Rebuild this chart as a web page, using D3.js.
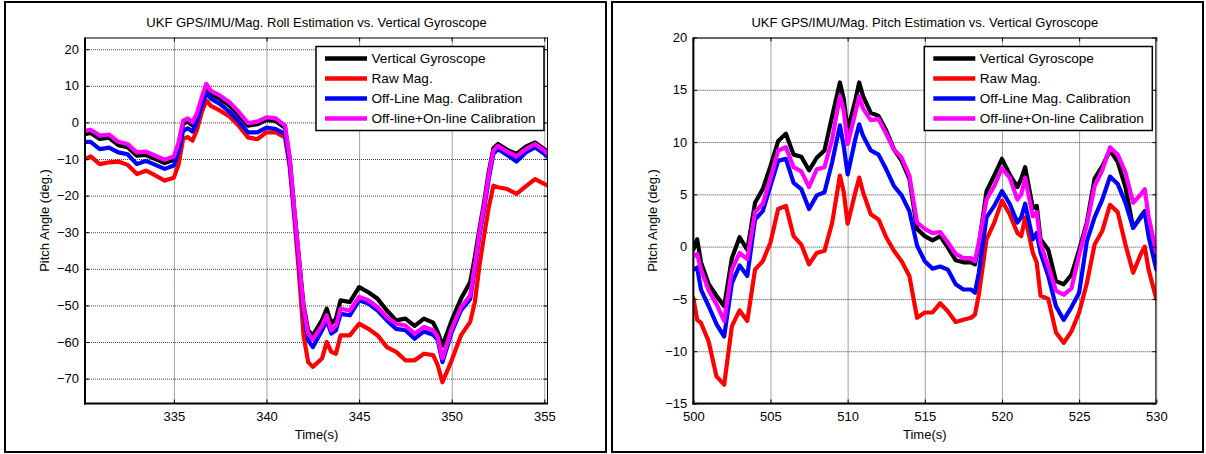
<!DOCTYPE html>
<html>
<head>
<meta charset="utf-8">
<script src="https://cdn.jsdelivr.net/npm/d3@7"></script>
<style>
  body { margin: 0; background: #fff; }
  svg { display: block; font-family: "Liberation Sans", Arial, Helvetica, sans-serif; }
</style>
</head>
<body>
<div id="chart"></div>
<script>
// ---- data ----
const seriesNames = ["Vertical Gyroscope", "Raw Mag.", "Off-Line Mag. Calibration", "Off-line+On-line Calibration"];
const seriesColors = ["#000000", "#ff0000", "#0000ff", "#ff00ff"];

// left figure: roll estimate (y label says pitch in the original)
const rollTime = [330.2, 330.5, 331, 331.5, 332, 332.5, 333, 333.5, 334, 334.5, 335, 335.25, 335.5, 335.75, 336, 336.25, 336.5, 336.75, 337, 337.5, 338, 338.5, 339, 339.5, 340, 340.5, 341, 341.25, 341.5, 341.75, 342, 342.25, 342.5, 343, 343.25, 343.5, 343.75, 344, 344.5, 345, 345.5, 346, 346.5, 347, 347.5, 348, 348.5, 349, 349.25, 349.5, 350, 350.5, 351, 351.25, 351.5, 351.75, 352, 352.25, 352.5, 353, 353.5, 354, 354.5, 355, 355.2];
const rollGyro = [-3.2, -2.9, -4.5, -4.2, -6.2, -6.8, -9.1, -8.9, -10.0, -11.1, -10.2, -6.4, -0.4, 0.2, -0.8, 1.8, 5.9, 9.6, 7.7, 6.4, 4.6, 2.0, -0.9, -0.5, 0.7, 0.4, -1.5, -9.8, -24.0, -37, -50, -56.8, -58.2, -54, -50.9, -55, -53.6, -48.6, -49.1, -45.0, -46.4, -48.2, -51.4, -54.1, -53.6, -55.6, -53.6, -54.7, -57.3, -61.0, -54.1, -48.2, -43.6, -36.8, -29.1, -21.8, -13.6, -7.1, -5.9, -7.5, -8.6, -6.6, -5.5, -7.3, -8.2];
const rollRaw = [-10.0, -9.3, -11.4, -10.9, -10.7, -11.6, -14.1, -13.2, -14.5, -15.9, -15.1, -11.5, -4.5, -4.0, -5.0, -2.0, 2.7, 6.0, 4.5, 3.2, 1.6, -0.9, -4.1, -4.6, -2.7, -2.7, -4.1, -12, -25.9, -41, -58.2, -65.5, -66.8, -64.5, -60.0, -62.7, -63.2, -58.2, -58.2, -55.0, -56.4, -58.2, -61.4, -62.7, -65.0, -65.0, -63.2, -63.6, -66.4, -71.0, -65.0, -58.2, -54.5, -49.1, -39.1, -30.9, -23.2, -17.3, -17.7, -18.2, -19.5, -17.5, -15.5, -16.8, -17.3];
const rollOffline = [-5.3, -5.3, -7.3, -6.9, -8.2, -8.7, -11.4, -10.5, -11.6, -12.7, -11.8, -8.0, -2.3, -1.6, -2.5, 0.2, 4.5, 8.0, 6.5, 5.0, 2.9, 0.3, -2.7, -2.7, -1.4, -1.8, -3.2, -11, -24.5, -38, -52, -59.5, -61.4, -56.8, -54.1, -57.7, -56.8, -52.3, -52.7, -48.6, -49.5, -51.4, -54.1, -56.4, -56.8, -59.1, -57.1, -58.0, -59.5, -65.5, -57.3, -51.4, -48.2, -40.0, -30.9, -23.6, -15.5, -8.6, -7.3, -8.9, -10.7, -8.2, -6.8, -8.6, -9.5];
const rollOnline = [-2.3, -2.0, -3.6, -3.3, -5.3, -5.9, -8.2, -8.0, -9.1, -10.2, -9.3, -5.5, 0.5, 1.1, 0.0, 2.6, 6.8, 10.5, 8.6, 7.3, 5.5, 2.9, -0.2, 0.2, 1.4, 1.1, -0.9, -9.5, -23.6, -37, -50.5, -57.7, -59.3, -55.5, -52.7, -56.8, -55.5, -50.9, -51.4, -47.7, -48.6, -50.5, -53.2, -55.0, -55.5, -57.7, -55.9, -56.8, -58.6, -64.5, -56.4, -50.5, -47.3, -39.1, -30.0, -22.7, -14.5, -7.7, -6.4, -8.0, -9.3, -7.3, -5.9, -7.7, -8.6];
const rollXTicks = [335, 340, 345, 350, 355];
const rollYTicks = [-70, -60, -50, -40, -30, -20, -10, 0, 10, 20];

// right figure: pitch estimate
const pitchTime = [500, 500.25, 500.5, 501, 501.5, 502, 502.5, 503, 503.5, 504, 504.5, 505, 505.5, 506, 506.5, 507, 507.5, 508, 508.5, 509, 509.5, 509.75, 510, 510.5, 510.75, 511, 511.5, 512, 512.5, 513, 513.5, 514, 514.5, 515, 515.5, 516, 516.5, 517, 517.5, 518, 518.25, 518.5, 519, 519.5, 520, 520.5, 521, 521.25, 521.5, 522, 522.25, 522.5, 523, 523.5, 524, 524.5, 525, 525.5, 526, 526.5, 527, 527.5, 528, 528.5, 529, 529.25, 529.5, 530];
const pitchGyro = [-0.3, 0.7, -1.5, -3.6, -4.7, -5.7, -1.1, 0.9, -0.3, 4.2, 5.5, 7.7, 10.1, 10.8, 8.8, 8.6, 7.3, 8.5, 9.2, 12.5, 15.7, 14.1, 11.1, 14.0, 15.7, 14.4, 12.8, 12.5, 11.1, 9.3, 8.2, 6.5, 1.7, 1.0, 0.6, 1.0, -0.1, -1.3, -1.5, -1.5, -1.7, 0.1, 5.3, 6.8, 8.4, 6.9, 5.7, 6.5, 7.6, 3.7, 3.9, 0.7, -0.3, -3.3, -3.6, -2.7, -0.3, 2.3, 6.5, 7.7, 9.2, 8.1, 5.7, 1.8, 2.9, 3.4, 1.7, -1.5];
const pitchRaw = [-4.9, -7.0, -7.3, -9.1, -12.4, -13.2, -7.6, -6.1, -7.1, -2.2, -1.4, 0.4, 3.6, 3.9, 1.0, 0.2, -1.7, -0.6, -0.4, 2.3, 6.8, 5.2, 2.2, 5.2, 6.6, 5.2, 3.1, 2.6, 0.9, -0.4, -1.4, -2.8, -6.8, -6.3, -6.3, -5.4, -6.2, -7.2, -7.0, -6.8, -6.5, -4.6, 0.7, 2.3, 4.4, 3.1, 1.3, 1.0, 2.8, -0.6, -1.5, -4.7, -5.0, -8.2, -9.2, -8.1, -6.3, -3.5, 0.2, 1.5, 4.0, 3.3, 0.2, -2.5, -0.7, 0.0, -2.2, -5.0];
const pitchOffline = [-2.2, -2.0, -4.1, -5.7, -7.4, -8.6, -3.5, -1.8, -2.8, 2.6, 3.4, 5.8, 8.2, 8.4, 6.1, 5.5, 3.6, 4.9, 5.2, 8.1, 11.6, 9.6, 6.9, 10.3, 11.7, 10.6, 9.2, 8.8, 7.4, 5.8, 4.9, 3.4, 0.1, -1.4, -2.1, -1.9, -2.2, -3.6, -4.1, -4.1, -4.4, -2.5, 2.8, 3.9, 5.3, 4.1, 2.3, 2.8, 4.1, 0.7, 1.3, -0.6, -2.8, -5.7, -7.0, -5.8, -4.4, 0.5, 2.8, 4.5, 6.7, 6.0, 4.2, 1.8, 2.8, 3.3, 1.0, -2.2];
const pitchOnline = [-0.9, -0.7, -2.2, -4.2, -5.5, -7.1, -2.2, -0.6, -1.2, 3.3, 4.1, 6.5, 9.2, 9.5, 7.6, 7.2, 5.7, 7.4, 7.6, 10.3, 14.4, 13.0, 9.8, 12.8, 14.4, 13.2, 12.1, 12.2, 10.8, 9.3, 8.5, 6.8, 2.3, 1.7, 1.3, 1.4, 0.4, -0.7, -1.1, -1.1, -1.4, 0.4, 4.5, 5.8, 7.5, 6.6, 4.5, 5.0, 6.6, 2.9, 3.3, 0.3, -1.9, -4.2, -4.6, -4.0, -0.8, 2.1, 5.8, 7.3, 9.5, 8.8, 7.1, 4.2, 5.0, 5.5, 2.9, -0.6];
const pitchXTicks = [500, 505, 510, 515, 520, 525, 530];
const pitchYTicks = [-15, -10, -5, 0, 5, 10, 15, 20];

const svgW = 1206, svgH = 454;
const fontSize = 13;
const legendFontSize = 13.6;

const svg = d3.select("#chart").append("svg")
    .attr("width", svgW)
    .attr("height", svgH);

function drawPanel(cfg) {
    const frame = cfg.frame;
    // outer frame of the figure
    svg.append("rect")
        .attr("x", frame.x).attr("y", frame.y)
        .attr("width", frame.w).attr("height", frame.h)
        .attr("fill", "none").attr("stroke", "#000").attr("stroke-width", 2);

    const m = cfg.axes; // left, top, width, height
    const g = svg.append("g").attr("transform", "translate(" + m.left + "," + m.top + ")");

    const x = d3.scaleLinear().domain(cfg.xDomain).range([0, m.width]);
    const y = d3.scaleLinear().domain(cfg.yDomain).range([m.height, 0]);

    // dotted grid
    const gridX = g.append("g").attr("class", "gridX")
        .attr("transform", "translate(0," + m.height + ")")
        .call(d3.axisBottom(x).tickValues(cfg.xTicks).tickSize(-m.height).tickFormat(""));
    const gridY = g.append("g").attr("class", "gridY")
        .call(d3.axisLeft(y).tickValues(cfg.yTicks).tickSize(-m.width).tickFormat(""));
    [gridX, gridY].forEach(sel => {
        sel.select(".domain").remove();
        sel.selectAll("line")
            .attr("stroke", "#444")
            .attr("stroke-width", 1)
            .attr("stroke-dasharray", "1,1");
    });

    // series lines
    const line = d3.line()
        .x((d, i) => x(cfg.time[i]))
        .y(d => y(d));
    const clipId = "clip" + cfg.id;
    g.append("clipPath").attr("id", clipId)
        .append("rect").attr("width", m.width).attr("height", m.height);
    const lineG = g.append("g").attr("clip-path", "url(#" + clipId + ")");
    cfg.series.forEach((vals, i) => {
        lineG.append("path")
            .datum(vals)
            .attr("d", line)
            .attr("fill", "none")
            .attr("stroke", seriesColors[i])
            .attr("stroke-width", 4.2)
            .attr("stroke-linejoin", "round")
            .attr("stroke-linecap", "round");
    });

    // inward ticks on all four sides
    const tickLen = 4;
    const axB = g.append("g").attr("transform", "translate(0," + m.height + ")")
        .call(d3.axisBottom(x).tickValues(cfg.xTicks).tickSize(-tickLen).tickFormat(""));
    const axT = g.append("g")
        .call(d3.axisTop(x).tickValues(cfg.xTicks).tickSize(-tickLen).tickFormat(""));
    const axL = g.append("g")
        .call(d3.axisLeft(y).tickValues(cfg.yTicks).tickSize(-tickLen).tickFormat(""));
    const axR = g.append("g").attr("transform", "translate(" + m.width + ",0)")
        .call(d3.axisRight(y).tickValues(cfg.yTicks).tickSize(-tickLen).tickFormat(""));
    [axB, axT, axL, axR].forEach(sel => {
        sel.select(".domain").remove();
        sel.selectAll("line").attr("stroke", "#000").attr("stroke-width", 1);
    });

    // axes box: bottom/left heavier like the original
    g.append("line").attr("x1", 0).attr("x2", m.width).attr("y1", 0.5).attr("y2", 0.5)
        .attr("stroke", "#000").attr("stroke-width", 1);
    g.append("line").attr("x1", m.width - 0.5).attr("x2", m.width - 0.5).attr("y1", 0).attr("y2", m.height)
        .attr("stroke", "#000").attr("stroke-width", 1);
    g.append("line").attr("x1", -1).attr("x2", m.width).attr("y1", m.height).attr("y2", m.height)
        .attr("stroke", "#000").attr("stroke-width", 2);
    g.append("line").attr("x1", 0).attr("x2", 0).attr("y1", 0).attr("y2", m.height + 1)
        .attr("stroke", "#000").attr("stroke-width", 2);

    // tick labels
    const labB = g.append("g").attr("transform", "translate(0," + m.height + ")")
        .call(d3.axisBottom(x).tickValues(cfg.xTicks).tickSize(0).tickPadding(8.6));
    const labL = g.append("g")
        .call(d3.axisLeft(y).tickValues(cfg.yTicks).tickSize(0).tickPadding(6));
    [labB, labL].forEach(sel => {
        sel.select(".domain").remove();
        sel.selectAll("text")
            .attr("fill", "#000")
            .style("font-size", fontSize + "px")
            .style("font-family", "'Liberation Sans', Arial, sans-serif");
    });

    // title and axis labels
    svg.append("text")
        .attr("x", m.left + m.width / 2).attr("y", 27)
        .attr("text-anchor", "middle")
        .style("font-size", fontSize + "px")
        .text(cfg.title);
    svg.append("text")
        .attr("x", m.left + m.width / 2).attr("y", 438.5)
        .attr("text-anchor", "middle")
        .style("font-size", fontSize + "px")
        .text("Time(s)");
    svg.append("text")
        .attr("transform", "translate(" + (m.left - 36) + "," + (m.top + m.height / 2) + ") rotate(-90)")
        .attr("text-anchor", "middle")
        .style("font-size", fontSize + "px")
        .text("Pitch Angle (deg.)");

    // legend
    const lg = g.append("g").attr("transform", "translate(231,9)");
    lg.append("rect")
        .attr("width", 228).attr("height", 84)
        .attr("fill", "#fff").attr("stroke", "#000").attr("stroke-width", 1.5);
    seriesNames.forEach((name, i) => {
        const cy = 12 + i * 20;
        lg.append("line")
            .attr("x1", 9).attr("x2", 51).attr("y1", cy).attr("y2", cy)
            .attr("stroke", seriesColors[i]).attr("stroke-width", 4.5);
        lg.append("text")
            .attr("x", 55.5).attr("y", cy + 4.8)
            .style("font-size", legendFontSize + "px")
            .text(name);
    });
}

drawPanel({
    id: "roll",
    frame: {x: 5, y: 2, w: 601, h: 450},
    axes: {left: 85, top: 37.5, width: 463, height: 366},
    xDomain: [330.2, 355.2],
    yDomain: [-76.8, 23.2],
    xTicks: rollXTicks,
    yTicks: rollYTicks,
    time: rollTime,
    series: [rollGyro, rollRaw, rollOffline, rollOnline],
    title: "UKF GPS/IMU/Mag. Roll Estimation vs. Vertical Gyroscope"
});

drawPanel({
    id: "pitch",
    frame: {x: 612, y: 2, w: 591, h: 450},
    axes: {left: 693.3, top: 37.5, width: 463, height: 366},
    xDomain: [500, 530],
    yDomain: [-15, 20],
    xTicks: pitchXTicks,
    yTicks: pitchYTicks,
    time: pitchTime,
    series: [pitchGyro, pitchRaw, pitchOffline, pitchOnline],
    title: "UKF GPS/IMU/Mag. Pitch Estimation vs. Vertical Gyroscope"
});
</script>
</body>
</html>
